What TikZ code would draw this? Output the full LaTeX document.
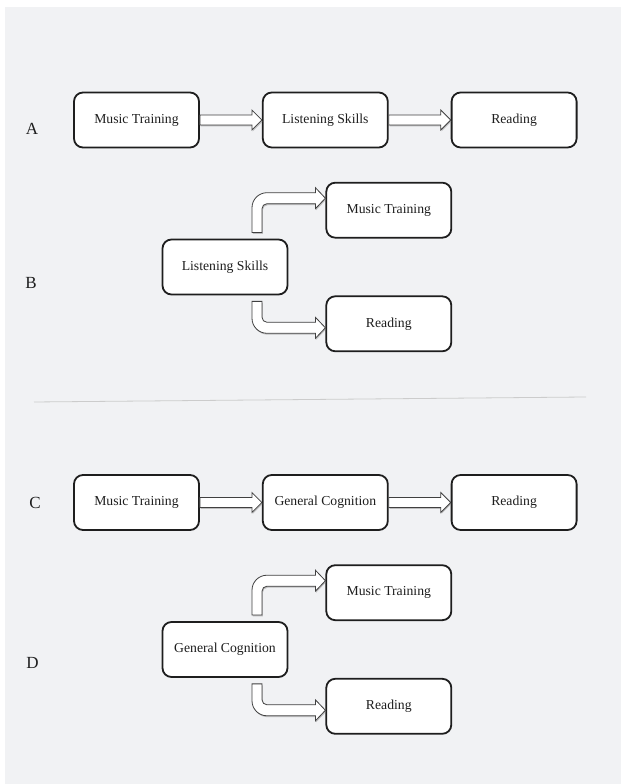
\documentclass[tikz,border=0pt]{standalone}
\usepackage{fontspec}
\setmainfont{Liberation Serif}
\usetikzlibrary{positioning,calc,shadows}
\definecolor{panel}{RGB}{241,242,244}
\definecolor{ink}{RGB}{30,30,30}

\begin{document}
\begin{tikzpicture}[
    x=1pt, y=1pt,
    block/.style={rectangle, draw=ink, fill=white, line width=1.8pt, rounded corners=9pt, minimum width=125pt, minimum height=55pt, font=\fontsize{13.7}{16}\selectfont, text=ink},
    fatarrow/.style={draw=black!75, line width=0.8pt, fill=white, line join=miter, drop shadow={shadow xshift=0.8pt, shadow yshift=-1.4pt, opacity=0.45}},
    tag/.style={inner sep=0pt, font=\fontsize{17}{20}\selectfont, text=ink},
    node distance=62pt
]
    \useasboundingbox (0,0) rectangle (621,784);
    \fill[white] (0,0) rectangle (621,784);
    \fill[panel] (5,0) rectangle (621,777);

    % A: music -> listening -> reading
    \node[block] (mtA) at (136.5,664) {Music Training};
    \node[block, right=of mtA] (lsA) {Listening Skills};
    \node[block, right=of lsA] (rdA) {Reading};
    \node[tag] (labA) at (32,655) {A};

    % B: listening skills drives both
    \node[block] (lsB) at (225,517) {Listening Skills};
    \node[block, above right=0pt and 37pt of lsB] (mtB) {Music Training};
    \node[block, below right=0pt and 37pt of lsB] (rdB) {Reading};
    \node[tag] (labB) at (31,501) {B};

    \draw[black!20, line width=0.8pt] (34,382) -- (586,387);

    % C: music -> general cognition -> reading
    \node[block] (mtC) at (136.5,281.5) {Music Training};
    \node[block, right=of mtC] (gcC) {General Cognition};
    \node[block, right=of gcC] (rdC) {Reading};
    \node[tag] (labC) at (35,281) {C};

    % D: general cognition drives both
    \node[block] (gcD) at (225,134.5) {General Cognition};
    \node[block, above right=0pt and 37pt of gcD] (mtD) {Music Training};
    \node[block, below right=0pt and 37pt of gcD] (rdD) {Reading};
    \node[tag] (labD) at (32.5,121) {D};

    \foreach \src/\dst in {mtA/lsA, lsA/rdA, mtC/gcC, gcC/rdC}
        \draw[fatarrow] ($(\src.east)+(0,5)$) -- ($(\dst.west)+(-10,5)$) -- ++(0,5) -- (\dst.west)
            -- ++(-10,-10) -- ++(0,5) -- ($(\src.east)+(0,-5)$) -- cycle;

    \foreach \src/\dst in {lsB/mtB, gcD/mtD}
        \draw[fatarrow] let \p1=(\src.north), \p3=($(\dst.west)+(0,12)$) in
            (\x1+27pt,\y1+6pt) -- (\x1+27pt,\y3-9.5pt) arc[start angle=180, end angle=90, radius=15pt]
            -- (\x3-10pt,\y3+5.5pt) -- (\x3-10pt,\y3+10.5pt) -- (\x3,\y3) -- (\x3-10pt,\y3-10.5pt)
            -- (\x3-10pt,\y3-5.5pt) -- (\x1+42pt,\y3-5.5pt) arc[start angle=90, end angle=180, radius=5pt]
            -- (\x1+37pt,\y1+6pt) -- cycle;

    \foreach \src/\dst in {lsB/rdB, gcD/rdD}
        \draw[fatarrow] let \p1=(\src.south), \p3=($(\dst.west)+(0,-4)$) in
            (\x1+27pt,\y1-6pt) -- (\x1+27pt,\y3+9.5pt) arc[start angle=180, end angle=270, radius=15pt]
            -- (\x3-10pt,\y3-5.5pt) -- (\x3-10pt,\y3-10.5pt) -- (\x3,\y3) -- (\x3-10pt,\y3+10.5pt)
            -- (\x3-10pt,\y3+5.5pt) -- (\x1+42pt,\y3+5.5pt) arc[start angle=270, end angle=180, radius=5pt]
            -- (\x1+37pt,\y1-6pt) -- cycle;
\end{tikzpicture}
\end{document}
